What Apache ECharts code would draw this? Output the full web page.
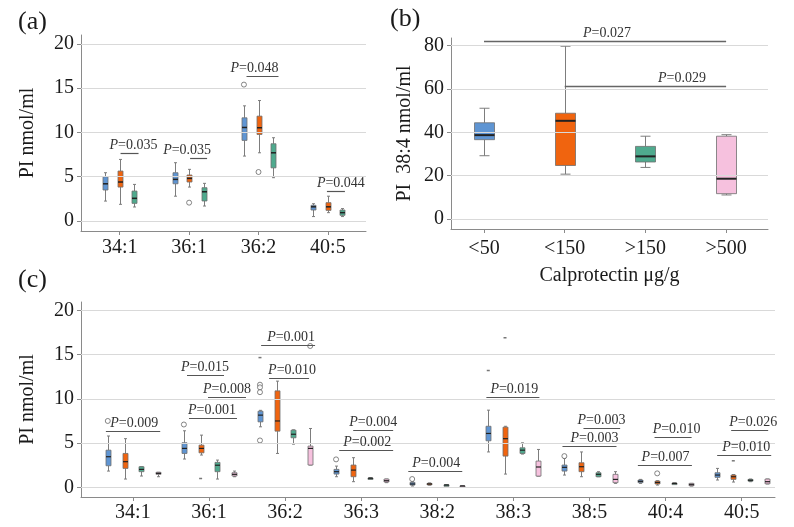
<!DOCTYPE html>
<html>
<head>
<meta charset="utf-8">
<script src="https://cdn.jsdelivr.net/npm/echarts@6/dist/echarts.min.js"></script>
<style>
html, body { margin: 0; padding: 0; background: #fff; }
#main { width: 794px; height: 527px; }
</style>
</head>
<body>
<div id="main"></div>
<script>
// ---- panel (a): [min, q1, median, q3, max] per category ----
var aCats = ['34:1', '36:1', '36:2', '40:5'];
var aBlue = [[2.25, 3.5, 4.2, 5.0, 5.45], [2.8, 4.2, 4.7, 5.45, 6.58], [7.33, 9.1, 10.56, 11.65, 13.0], [0.5, 1.24, 1.6, 1.77, 1.95]];
var aOrange = [[1.88, 3.83, 4.4, 5.64, 6.95], [3.83, 4.4, 4.81, 5.19, 5.83], [7.7, 9.77, 10.53, 11.84, 13.6], [0.94, 1.2, 1.6, 2.07, 2.8]];
var aGreen = [[1.58, 1.99, 2.56, 3.38, 4.13], [1.69, 2.26, 3.3, 3.76, 4.25], [4.89, 6.0, 7.7, 8.72, 9.4], [0.5, 0.64, 0.94, 1.24, 1.4]];
// [category, group, value]
var aOutliers = [[1, 1, 2.07], [2, 0, 15.4], [2, 1, 5.53]];
// [from, to, y, text x, p value]
var aPvals = [[0.012, 0.271, 7.68, 0.199, '0.035'], [1.014, 1.259, 7.12, 0.971, '0.035'],
              [1.827, 2.288, 16.38, 1.942, '0.048'], [2.986, 3.245, 3.39, 3.187, '0.044']];
var aTicks = [0, 5, 10, 15, 20];

// ---- panel (b) ----
var bCats = ['<50', '<150', '>150', '>500'];
var bStats = [[29.2, 36.6, 38.7, 44.4, 51.1], [20.7, 24.7, 45.3, 48.8, 79.7], [23.8, 26.3, 28.9, 33.5, 38.2], [11.1, 11.7, 18.6, 38.2, 38.9]];
var bPvals = [[0, 3, 82, 1.524, '0.027'], [1, 3, 61.5, 2.453, '0.029']];
var bTicks = [0, 20, 40, 60, 80];

// ---- panel (c) ----
var cCats = ['34:1', '36:1', '36:2', '36:3', '38:2', '38:3', '38:5', '40:4', '40:5'];
var cBlue = [[1.84, 2.44, 3.46, 4.2, 5.8], [3.2, 3.83, 4.4, 5.04, 6.39], [6.84, 7.4, 8.16, 8.6, 8.7], [1.2, 1.5, 1.77, 2.03, 2.4],
             [0.15, 0.26, 0.38, 0.56, 0.64], [4.0, 5.26, 6.09, 6.9, 8.72], [1.39, 1.84, 2.26, 2.52, 3.27], [0.45, 0.53, 0.68, 0.83, 0.9],
             [0.83, 1.13, 1.39, 1.65, 2.14]];
var cOrange = [[0.94, 2.14, 2.9, 3.83, 5.5], [3.65, 3.9, 4.4, 4.77, 5.9], [3.83, 6.35, 7.5, 10.9, 12.0], [0.64, 1.2, 1.95, 2.52, 3.35],
               [0.25, 0.3, 0.38, 0.45, 0.5], [1.5, 3.53, 5.5, 6.8, 6.9], [1.2, 1.77, 2.33, 2.78, 4.0], [0.26, 0.38, 0.55, 0.71, 0.75],
               [0.6, 0.9, 1.2, 1.39, 1.45]];
var cGreen = [[1.28, 1.77, 2.03, 2.33, 2.33], [0.94, 1.77, 2.5, 2.82, 3.08], [4.88, 5.6, 6.0, 6.46, 6.5], [0.95, 1.0, 1.03, 1.06, 1.1],
              [0.2, 0.23, 0.26, 0.29, 0.32], [3.76, 3.83, 4.2, 4.47, 5.03], [1.2, 1.2, 1.47, 1.65, 1.77], [0.4, 0.42, 0.45, 0.48, 0.5],
              [0.64, 0.7, 0.8, 0.9, 0.94]];
var cPink = [[1.2, 1.47, 1.58, 1.7, 1.7], [1.2, 1.28, 1.47, 1.65, 1.84], [2.52, 2.52, 4.4, 4.66, 6.65], [0.53, 0.6, 0.75, 0.94, 0.94],
             [0.12, 0.13, 0.15, 0.17, 0.18], [1.27, 1.27, 2.3, 2.97, 4.28], [0.45, 0.53, 0.9, 1.47, 1.77], [0.15, 0.18, 0.3, 0.45, 0.45],
             [0.38, 0.4, 0.64, 0.94, 0.94]];
var cOutliers = [[0, 0, 7.5], [1, 0, 7.1], [2, 0, 11.6], [2, 0, 11.3], [2, 0, 10.75], [2, 0, 5.3], [2, 3, 15.97],
                 [3, 0, 3.16], [4, 0, 0.94], [6, 0, 3.53], [7, 1, 1.58]];
var cExtremes = [[1, 1, 1.0], [2, 0, 14.66], [5, 0, 13.2], [5, 1, 16.9], [8, 1, 3.0]];
var cPvals = [[-0.355, 0.359, 6.35, 0.017, '0.009'], [0.711, 1.197, 12.67, 0.947, '0.015'], [0.987, 1.486, 10.22, 1.237, '0.008'],
              [0.737, 1.368, 7.78, 1.039, '0.001'], [1.685, 2.394, 16.05, 2.079, '0.001'], [1.79, 2.315, 12.36, 2.092, '0.010'],
              [2.895, 3.42, 6.46, 3.158, '0.004'], [2.711, 3.42, 4.2, 3.079, '0.002'], [3.619, 4.328, 1.84, 3.987, '0.004'],
              [4.645, 5.342, 10.22, 5.013, '0.019'], [5.921, 6.403, 6.72, 6.158, '0.003'], [5.645, 6.355, 4.66, 6.066, '0.003'],
              [6.855, 7.342, 5.7, 7.145, '0.010'], [6.636, 7.346, 2.52, 7.0, '0.007'], [7.862, 8.348, 6.46, 8.151, '0.026'],
              [7.678, 8.388, 3.64, 8.059, '0.010']];
var cTicks = [0, 5, 10, 15, 20];

var FONT = 'Liberation Serif';
var ink = '#1a1a1a';
var axisGray = '#8a8a8a';
var colors = ['#5f95d3', '#f0640f', '#4faa8e', '#f6c1de'];
var aSlots = [-0.21, 0, 0.21];
var cSlots = [-0.33, -0.11, 0.11, 0.33];

function range(n) { var r = []; for (var i = 0; i < n; i++) r.push(i); return r; }

function yAxisFor(grid, min, max, ticks, name, gap) {
    return {
        gridIndex: grid, type: 'value', min: min, max: max,
        axisLine: { show: true, onZero: false, lineStyle: { color: axisGray, width: 1 } },
        axisTick: { show: true, length: 4, customValues: ticks, lineStyle: { color: axisGray } },
        axisLabel: { customValues: ticks, margin: 7, color: ink, fontFamily: FONT, fontSize: 20 },
        splitLine: { show: false },
        name: name, nameLocation: 'middle', nameGap: gap,
        nameTextStyle: { color: ink, fontFamily: FONT, fontSize: 20 }
    };
}

function xAxisFor(grid, min, max, cats, margin, name) {
    var ticks = range(cats.length);
    return {
        gridIndex: grid, type: 'value', min: min, max: max,
        axisLine: { show: true, onZero: false, lineStyle: { color: axisGray, width: 1 } },
        axisTick: { show: true, length: 4, customValues: ticks, lineStyle: { color: axisGray } },
        axisLabel: {
            customValues: ticks, margin: margin, color: ink, fontFamily: FONT, fontSize: 20,
            formatter: function (v) { return cats[Math.round(v)]; }
        },
        splitLine: { show: false },
        name: name || '', nameLocation: 'middle', nameGap: 37,
        nameTextStyle: { color: ink, fontFamily: FONT, fontSize: 20 }
    };
}

function gridLines(grid, ticks) {
    return {
        type: 'line', xAxisIndex: grid, yAxisIndex: grid, data: [], z: 1, silent: true,
        markLine: {
            silent: true, symbol: ['none', 'none'], label: { show: false },
            lineStyle: { color: '#d9d9d9', type: 'solid', width: 1 },
            data: ticks.map(function (v) { return { yAxis: v }; })
        }
    };
}

// stats: list of [min,q1,med,q3,max]; colorOf(i) gives fill
function boxSeries(grid, stats, slot, colorOf, boxW, capW, medW) {
    return {
        type: 'custom', xAxisIndex: grid, yAxisIndex: grid, z: 3, silent: true,
        data: stats.map(function (s, i) { return [i + slot].concat(s); }),
        encode: { x: 0, y: [1, 2, 3, 4, 5] },
        renderItem: function (params, api) {
            var x = api.value(0);
            var lo = api.coord([x, api.value(1)]);
            var q1 = api.coord([x, api.value(2)]);
            var md = api.coord([x, api.value(3)]);
            var q3 = api.coord([x, api.value(4)]);
            var hi = api.coord([x, api.value(5)]);
            var cx = Math.round(lo[0]) + 0.5, h = boxW / 2, c = capW / 2;
            var wStyle = { stroke: '#7d7d7d', lineWidth: 1 };
            return {
                type: 'group', children: [
                    { type: 'line', shape: { x1: cx, y1: hi[1], x2: cx, y2: q3[1] }, style: wStyle },
                    { type: 'line', shape: { x1: cx, y1: q1[1], x2: cx, y2: lo[1] }, style: wStyle },
                    { type: 'line', shape: { x1: cx - c, y1: hi[1], x2: cx + c, y2: hi[1] }, style: wStyle },
                    { type: 'line', shape: { x1: cx - c, y1: lo[1], x2: cx + c, y2: lo[1] }, style: wStyle },
                    { type: 'rect', shape: { x: cx - h, y: q3[1], width: boxW, height: Math.max(q1[1] - q3[1], 1.5) },
                      style: { fill: colorOf(params.dataIndex), stroke: '#6e6e6e', lineWidth: 0.8 } },
                    { type: 'line', shape: { x1: cx - h, y1: md[1], x2: cx + h, y2: md[1] },
                      style: { stroke: '#222', lineWidth: medW } }
                ]
            };
        }
    };
}

function outlierSeries(grid, pts, slots, hollow) {
    return {
        type: 'scatter', xAxisIndex: grid, yAxisIndex: grid, z: 4, silent: true,
        data: pts.map(function (p) { return [p[0] + slots[p[1]], p[2]]; }),
        symbol: hollow ? 'circle' : 'rect',
        symbolSize: hollow ? 5 : [3, 1.5],
        itemStyle: hollow ? { color: '#fff', borderColor: '#666', borderWidth: 1 } : { color: '#555' }
    };
}

function pSeries(grid, list, lineColor, lineW) {
    return {
        type: 'custom', xAxisIndex: grid, yAxisIndex: grid, z: 5, silent: true, clip: false,
        data: list.map(function (p) { return [p[0], p[1], p[2], p[3]]; }),
        renderItem: function (params, api) {
            var a = api.coord([api.value(0), api.value(2)]);
            var b = api.coord([api.value(1), api.value(2)]);
            var t = api.coord([api.value(3), api.value(2)]);
            var y = Math.round(a[1]) + 0.5;
            return {
                type: 'group', children: [
                    { type: 'line', shape: { x1: a[0], y1: y, x2: b[0], y2: y }, style: { stroke: lineColor, lineWidth: lineW } },
                    { type: 'text', x: t[0], y: y - 1, style: {
                        text: '{i|P}=' + list[params.dataIndex][4],
                        align: 'center', verticalAlign: 'bottom',
                        fontFamily: FONT, fontSize: 14, fill: '#333',
                        rich: { i: { fontFamily: FONT, fontSize: 14, fontStyle: 'italic', fill: '#333' } }
                    } }
                ]
            };
        }
    };
}

var series = [
    gridLines(0, aTicks), gridLines(1, bTicks), gridLines(2, cTicks),
    boxSeries(0, aBlue, aSlots[0], function () { return colors[0]; }, 5, 3, 1.5),
    boxSeries(0, aOrange, aSlots[1], function () { return colors[1]; }, 5, 3, 1.5),
    boxSeries(0, aGreen, aSlots[2], function () { return colors[2]; }, 5, 3, 1.5),
    outlierSeries(0, aOutliers, aSlots, true),
    pSeries(0, aPvals, '#555', 1.2),
    boxSeries(1, bStats, 0, function (i) { return colors[i]; }, 20, 10, 2),
    pSeries(1, bPvals, '#666', 1.5),
    boxSeries(2, cBlue, cSlots[0], function () { return colors[0]; }, 5, 3, 1.2),
    boxSeries(2, cOrange, cSlots[1], function () { return colors[1]; }, 5, 3, 1.2),
    boxSeries(2, cGreen, cSlots[2], function () { return colors[2]; }, 5, 3, 1.2),
    boxSeries(2, cPink, cSlots[3], function () { return colors[3]; }, 5, 3, 1.2),
    outlierSeries(2, cOutliers, cSlots, true),
    outlierSeries(2, cExtremes, cSlots, false),
    pSeries(2, cPvals, '#555', 1.2)
];

var option = {
    animation: false,
    backgroundColor: '#fff',
    grid: [
        { left: 81, top: 35, width: 285, height: 196 },
        { left: 451, top: 38, width: 317, height: 191 },
        { left: 81, top: 302, width: 694, height: 195 }
    ],
    xAxis: [
        xAxisFor(0, -0.558, 3.549, aCats, 7),
        xAxisFor(1, -0.409, 3.519, bCats, 10, 'Calprotectin \u03bcg/g'),
        xAxisFor(2, -0.682, 8.438, cCats, 6)
    ],
    yAxis: [
        yAxisFor(0, -1.13, 21.0, aTicks, 'PI nmol/ml', 43),
        yAxisFor(1, -4.6, 83.5, bTicks, 'PI  38:4 nmol/ml', 36),
        yAxisFor(2, -1.09, 20.94, cTicks, 'PI nmol/ml', 43)
    ],
    graphic: [
        { type: 'text', left: 18, top: 9, style: { text: '(a)', fontFamily: FONT, fontSize: 26, fill: ink } },
        { type: 'text', left: 390, top: 6, style: { text: '(b)', fontFamily: FONT, fontSize: 26, fill: ink } },
        { type: 'text', left: 18, top: 267, style: { text: '(c)', fontFamily: FONT, fontSize: 26, fill: ink } }
    ],
    series: series
};

var myChart = echarts.init(document.getElementById('main'));
myChart.setOption(option);
</script>
</body>
</html>
